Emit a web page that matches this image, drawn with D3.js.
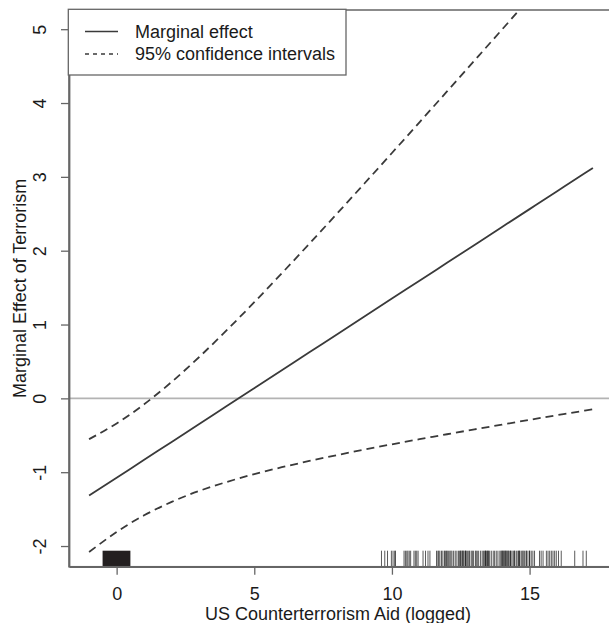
<!DOCTYPE html>
<html>
<head>
<meta charset="utf-8">
<script src="https://cdn.jsdelivr.net/npm/d3@7"></script>
<style>
  html, body { margin: 0; padding: 0; background: #fff; }
  svg { display: block; }
  text { font-family: "Liberation Sans", Arial, sans-serif; fill: #1a1a1a; }
</style>
</head>
<body>
<script>
// ---- data ----
const aidGrid = [-1, 0, 1, 2, 3, 4, 5, 6, 7, 8, 9, 10, 11, 12, 13, 14, 15, 16, 17, 17.3];
const marginalEffect = [-1.317, -1.075, -0.832, -0.590, -0.347, -0.105, 0.138, 0.381, 0.623, 0.866, 1.108, 1.351, 1.593, 1.836, 2.078, 2.321, 2.563, 2.806, 3.048, 3.121];
const ciUpper = [-0.553, -0.339, -0.080, 0.223, 0.560, 0.923, 1.302, 1.694, 2.094, 2.500, 2.910, 3.323, 3.739, 4.157, 4.576, 4.996, 5.417, 5.839, 6.262, 6.389];
const ciLower = [-2.081, -1.810, -1.584, -1.402, -1.254, -1.132, -1.026, -0.933, -0.848, -0.769, -0.694, -0.622, -0.553, -0.486, -0.420, -0.355, -0.291, -0.228, -0.166, -0.147];
const zeroAidBand = [-0.51, 0.50];
const rugAid = [
  9.62, 9.74, 9.84, 9.98, 10.04, 10.10, 10.13,
  10.44, 10.49, 10.54, 10.58, 10.63, 10.68, 10.80, 10.85, 10.90, 10.95, 11.13, 11.22, 11.31, 11.38,
  11.62, 11.67, 11.70, 11.74, 11.80, 11.85, 11.91, 11.94, 11.98, 12.01, 12.05, 12.10, 12.14, 12.18, 12.24, 12.30, 12.36,
  12.42, 12.46, 12.50, 12.50, 12.55, 12.58, 12.58, 12.62, 12.67, 12.67, 12.70, 12.74, 12.79, 12.82, 12.88,
  12.92, 12.96, 13.03, 13.06, 13.10, 13.15, 13.22, 13.28, 13.33, 13.37, 13.40, 13.40, 13.44, 13.48, 13.48, 13.51, 13.55,
  13.61, 13.68, 13.73, 13.79, 13.85, 13.92, 13.96, 14.00, 14.00, 14.03, 14.07, 14.07, 14.11, 14.14,
  14.14, 14.18, 14.22, 14.22, 14.26, 14.31, 14.31, 14.36, 14.41, 14.46, 14.46, 14.53, 14.58, 14.60,
  14.64, 14.64, 14.70, 14.76, 14.76, 14.82, 14.88, 14.88, 14.94, 15.00, 15.00, 15.06, 15.12, 15.18,
  15.36, 15.42, 15.49, 15.61, 15.67, 15.73, 15.79, 15.85, 15.91, 15.97, 16.05, 16.15,
  16.64, 16.94, 17.06
];
const xTicks = [0, 5, 10, 15];
const yTicks = [-2, -1, 0, 1, 2, 3, 4, 5];
const legendLabels = ["Marginal effect", "95% confidence intervals"];
const xTitle = "US Counterterrorism Aid (logged)";
const yTitle = "Marginal Effect of Terrorism";

// ---- layout ----
const W = 609, H = 623;
const plot = { left: 69, right: 613, top: 10, bottom: 566.7 };
const x = d3.scaleLinear().domain([-1.73, 18.03]).range([plot.left, plot.right]);
const y = d3.scaleLinear().domain([-2.28, 5.26]).range([plot.bottom, plot.top]);

const svg = d3.select("body").append("svg").attr("width", W).attr("height", H);

svg.append("clipPath").attr("id", "clip").append("rect")
  .attr("x", plot.left).attr("y", plot.top)
  .attr("width", plot.right - plot.left).attr("height", plot.bottom - plot.top);

const g = svg.append("g").attr("clip-path", "url(#clip)");

// zero reference line
g.append("line")
  .attr("x1", plot.left).attr("x2", plot.right)
  .attr("y1", y(0)).attr("y2", y(0))
  .attr("stroke", "#b3b3b3").attr("stroke-width", 1.6);

// rug
const rugLen = 16;
g.append("rect")
  .attr("x", x(zeroAidBand[0])).attr("width", x(zeroAidBand[1]) - x(zeroAidBand[0]))
  .attr("y", plot.bottom - rugLen).attr("height", rugLen)
  .attr("fill", "#231f20");
g.selectAll("line.rug").data(rugAid).enter().append("line")
  .attr("class", "rug")
  .attr("x1", d => x(d)).attr("x2", d => x(d))
  .attr("y1", plot.bottom - rugLen).attr("y2", plot.bottom)
  .attr("stroke", "#1a1a1a").attr("stroke-opacity", 0.72).attr("stroke-width", 1);

// lines
const mkLine = vals => d3.line()
  .x((d, i) => x(aidGrid[i]))
  .y(d => y(d))
  .curve(d3.curveNatural)(vals);

g.append("path").attr("d", mkLine(marginalEffect))
  .attr("fill", "none").attr("stroke", "#3a3a3a").attr("stroke-width", 1.8);
[ciUpper, ciLower].forEach(vals => {
  g.append("path").attr("d", mkLine(vals))
    .attr("fill", "none").attr("stroke", "#3a3a3a").attr("stroke-width", 1.8)
    .attr("stroke-dasharray", "8,5");
});

// plot frame (top/right edge)
svg.append("rect")
  .attr("x", plot.left).attr("y", plot.top)
  .attr("width", plot.right - plot.left).attr("height", plot.bottom - plot.top)
  .attr("fill", "none").attr("stroke", "#666").attr("stroke-width", 1.5);

// axes
const axisColor = "#666";
const fmt = d => String(d);
const xAxis = svg.append("g").attr("transform", `translate(0,${plot.bottom})`)
  .call(d3.axisBottom(x).tickValues(xTicks).tickFormat(fmt).tickSize(8).tickSizeOuter(0));
const yAxis = svg.append("g").attr("transform", `translate(${plot.left},0)`)
  .call(d3.axisLeft(y).tickValues(yTicks).tickFormat(fmt).tickSize(8).tickSizeOuter(0));
[xAxis, yAxis].forEach(a => {
  a.select(".domain").attr("stroke", axisColor).attr("stroke-width", 1.8);
  a.selectAll(".tick line").attr("stroke", axisColor).attr("stroke-width", 1.3);
  a.selectAll("text").attr("font-size", 18).attr("fill", "#1a1a1a")
    .attr("font-family", "'Liberation Sans', Arial, sans-serif");
});
xAxis.selectAll(".tick text").attr("dy", null).attr("y", 33);
yAxis.selectAll(".tick text")
  .attr("x", null).attr("dy", null).attr("y", null)
  .attr("text-anchor", "middle")
  .attr("transform", "translate(-23,0) rotate(-90)");

// axis titles
svg.append("text").attr("x", (plot.left + plot.right) / 2 - 3).attr("y", 620)
  .attr("text-anchor", "middle").attr("font-size", 18).text(xTitle);
svg.append("text")
  .attr("transform", `translate(25.5,${(plot.top + plot.bottom) / 2}) rotate(-90)`)
  .attr("text-anchor", "middle").attr("font-size", 18).text(yTitle);

// legend
const leg = svg.append("g");
leg.append("rect").attr("x", 68.3).attr("y", 9.3).attr("width", 277.7).attr("height", 65.7)
  .attr("fill", "#fff").attr("stroke", "#666").attr("stroke-width", 1.3);
const rowY = [31.5, 54];
legendLabels.forEach((lab, i) => {
  leg.append("line").attr("x1", 85).attr("x2", 118).attr("y1", rowY[i]).attr("y2", rowY[i])
    .attr("stroke", "#3a3a3a").attr("stroke-width", 1.3)
    .attr("stroke-dasharray", i === 1 ? "4,4" : null);
  leg.append("text").attr("x", 135).attr("y", rowY[i] + 6.3).attr("font-size", 18).text(lab);
});
</script>
</body>
</html>
